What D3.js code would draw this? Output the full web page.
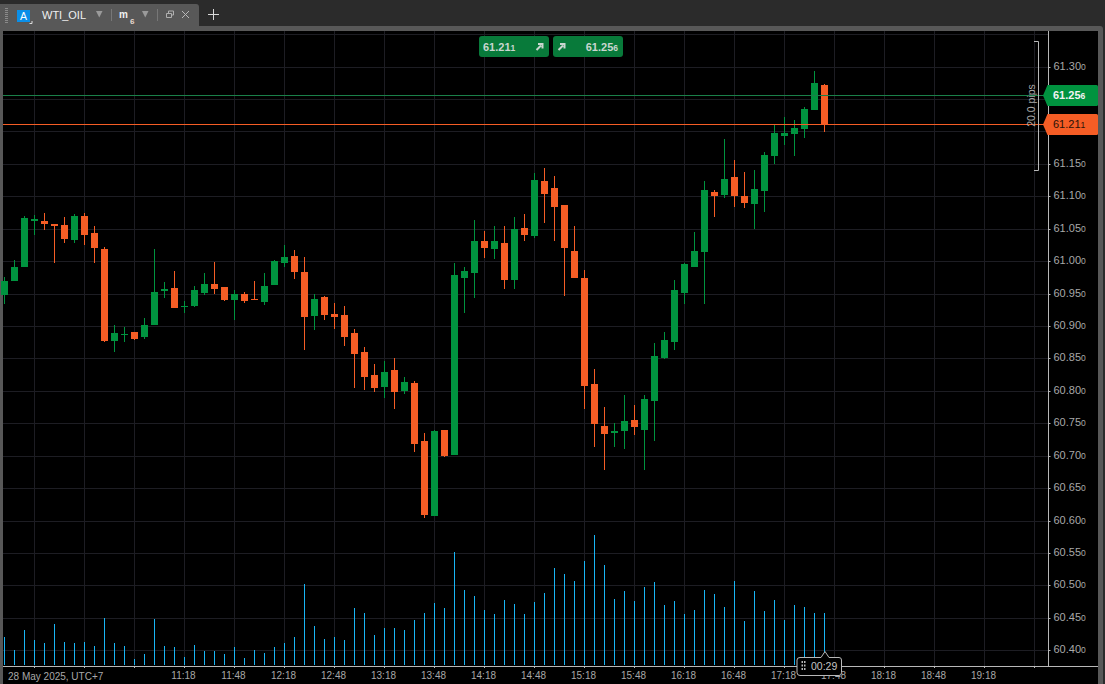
<!DOCTYPE html>
<html lang="en">
<head>
<meta charset="UTF-8">
<title>WTI_OIL m6</title>
<script src="https://cdn.jsdelivr.net/npm/d3@7"></script>
<style>
    html, body { margin: 0; padding: 0; background: #2b2b2b; overflow: hidden; }
    svg { display: block; font-family: "Liberation Sans", Arial, sans-serif; }
</style>
</head>
<body>
<script>

    //candles, one every 6 minutes from 09:30
    var startTime = "09:30";
    var barOpen = [60.949,60.970,60.992,61.063,61.063,61.058,61.056,61.033,61.070,61.044,
        61.019,60.878,60.887,60.891,60.884,60.902,60.955,60.959,60.930,60.932,
        60.952,60.965,60.961,60.941,60.950,60.942,60.938,60.964,60.998,61.009,
        60.984,60.916,60.945,60.919,60.918,60.890,60.861,60.825,60.807,60.833,
        60.800,60.813,60.723,60.608,60.740,60.702,60.974,60.982,61.032,61.019,
        61.029,60.972,61.052,61.039,61.124,61.113,61.087,61.016,60.974,60.811,
        60.747,60.736,60.739,60.756,60.740,60.785,60.851,60.876,60.952,60.991,
        61.015,61.107,61.103,61.130,61.101,61.089,61.109,61.163,61.194,61.197,
        61.204,61.234,61.272];
    var barHigh = [60.976,61.002,61.070,61.072,61.075,61.058,61.069,61.073,61.075,61.055,
        61.022,60.902,60.899,60.891,60.913,61.019,60.968,60.985,60.939,60.962,
        60.982,60.999,60.961,60.956,60.953,60.970,60.982,61.002,61.026,61.018,
        61.007,60.950,60.947,60.936,60.932,60.896,60.868,60.842,60.847,60.851,
        60.822,60.816,60.736,60.740,60.740,60.998,60.992,61.064,61.047,61.055,
        61.055,61.069,61.073,61.137,61.144,61.132,61.087,61.055,60.987,60.834,
        60.776,60.751,60.794,60.779,60.794,60.874,60.891,60.972,60.998,61.045,
        61.124,61.110,61.189,61.157,61.138,61.141,61.169,61.211,61.223,61.218,
        61.238,61.294,61.274];
    var barLow = [60.935,60.970,60.991,61.041,61.049,60.998,61.029,61.029,61.026,60.998,
        60.876,60.861,60.876,60.879,60.881,60.902,60.944,60.929,60.921,60.930,
        60.949,60.950,60.939,60.910,60.936,60.941,60.933,60.964,60.991,60.973,
        60.864,60.895,60.910,60.896,60.870,60.805,60.802,60.799,60.790,60.773,
        60.796,60.706,60.605,60.608,60.699,60.702,60.921,60.944,61.006,61.004,
        60.958,60.958,61.032,61.036,61.059,61.032,60.947,60.974,60.773,60.714,
        60.679,60.714,60.711,60.733,60.679,60.723,60.850,60.864,60.935,60.991,
        60.935,61.069,61.098,61.084,61.082,61.050,61.076,61.150,61.180,61.163,
        61.190,61.234,61.200];
    var barClose = [60.970,60.992,61.067,61.066,61.058,61.055,61.035,61.070,61.041,61.021,
        60.878,60.890,60.888,60.881,60.902,60.953,60.958,60.929,60.932,60.956,
        60.965,60.958,60.941,60.950,60.939,60.941,60.962,61.001,61.007,60.984,
        60.915,60.942,60.918,60.915,60.884,60.858,60.822,60.805,60.830,60.799,
        60.814,60.719,60.609,60.739,60.700,60.979,60.985,61.031,61.021,61.031,
        60.972,61.050,61.041,61.126,61.104,61.084,61.021,60.974,60.808,60.750,
        60.734,60.739,60.754,60.745,60.788,60.854,60.879,60.956,60.996,61.016,
        61.110,61.101,61.127,61.101,61.090,61.112,61.164,61.198,61.198,61.206,
        61.235,61.275,61.211];
    var tickVolume = [28,15,35,25,22,41,23,22,23,19,47,22,19,6,11,46,19,18,8,20,
        14,14,11,18,7,15,12,18,22,28,81,39,26,28,25,57,52,30,37,37,
        35,45,52,62,57,113,75,69,55,51,65,61,51,63,72,97,91,84,104,130,
        100,66,74,64,78,83,60,64,51,55,75,71,58,84,44,74,54,65,45,60,
        58,52,52];

    //axes
    var priceTicks = [61.30,61.25,61.20,61.15,61.10,61.05,61.00,60.95,60.90,60.85,
        60.80,60.75,60.70,60.65,60.60,60.55,60.50,60.45,60.40];
    var priceHidden = [61.25,61.20];    //covered by the price tags
    var priceGridExtra = [61.35];
    var timeTicks = ["09:48","10:18","10:48","11:18","11:48","12:18","12:48","13:18","13:48","14:18",
        "14:48","15:18","15:48","16:18","16:48","17:18","17:48","18:18","18:48","19:18","19:48"];
    var timeHidden = ["09:48","10:18","10:48","19:48"];
    var dateLabel = "28 May 2025, UTC+7";

    //current prices
    var askPrice = 61.256;
    var bidPrice = 61.211;
    var spreadLabel = "20.0 pips";
    var countdown = "00:29";
    var symbolName = "WTI_OIL";
    var timeframeLetter = "m";
    var timeframeNumber = "6";

    var width = 1105;
    var height = 684;
    var chartLeft = 3;
    var chartRight = 1098;
    var chartTop = 31;
    var axisX = 1048;
    var axisY = 666;

    var green = "#00933f";
    var orange = "#f55d25";
    var gridColor = "#1d1d23";
    var axisColor = "#b8b8b8";
    var labelColor = "#a8a8a8";
    var panelGray = "#585858";

    var parseTime = d3.utcParse("%H:%M");
    var firstBar = parseTime(startTime);
    var barTimes = barOpen.map(function (d, i) {
        return d3.utcMinute.offset(firstBar, i * 6);
    });

    var x = d3.scaleUtc()
        .domain([firstBar, d3.utcMinute.offset(firstBar, 6)])
        .range([4.5, 14.5]);
    var y = d3.scaleLinear()
        .domain([60.40, 61.30])
        .range([650.74, 67]);
    var volumeY = d3.scaleLinear()
        .domain([0, 130])
        .range([665, 535]);

    //row of a 1px line
    function row(p) {
        return Math.floor(y(p)) + 0.5;
    }
    function edge(p) {
        return Math.round(y(p));
    }

    var svg = d3.select("body")
        .append("svg")
        .attr("width", width)
        .attr("height", height);

    //window frame
    svg.append("rect").attr("width", width).attr("height", height).attr("fill", "#2b2b2b");
    svg.append("path")
        .attr("d", "M0,26H1100Q1103,26 1103,29V684H0Z")
        .attr("fill", panelGray);
    svg.append("rect")
        .attr("x", chartLeft).attr("y", chartTop)
        .attr("width", chartRight - chartLeft).attr("height", height - chartTop)
        .attr("fill", "#000");

    //grid
    var timeValues = timeTicks.map(parseTime);
    svg.append("g").selectAll("line")
        .data(timeValues)
        .enter()
        .append("line")
        .attr("x1", function (d) { return x(d); })
        .attr("x2", function (d) { return x(d); })
        .attr("y1", chartTop)
        .attr("y2", axisY)
        .attr("stroke", gridColor);
    svg.append("g").selectAll("line")
        .data(priceTicks.concat(priceGridExtra))
        .enter()
        .append("line")
        .attr("x1", chartLeft)
        .attr("x2", axisX)
        .attr("y1", row)
        .attr("y2", row)
        .attr("stroke", gridColor);

    //volume
    svg.append("g").selectAll("line")
        .data(tickVolume)
        .enter()
        .append("line")
        .attr("x1", function (d, i) { return x(barTimes[i]); })
        .attr("x2", function (d, i) { return x(barTimes[i]); })
        .attr("y1", function (d) { return volumeY(0); })
        .attr("y2", function (d) { return volumeY(d); })
        .attr("stroke", "#17b5f5");

    //candles
    var candles = svg.append("g").selectAll("g")
        .data(barOpen)
        .enter()
        .append("g")
        .attr("fill", function (d, i) { return barClose[i] >= d ? green : orange; })
        .attr("stroke", function (d, i) { return barClose[i] >= d ? green : orange; });
    candles.append("line")
        .attr("x1", function (d, i) { return x(barTimes[i]); })
        .attr("x2", function (d, i) { return x(barTimes[i]); })
        .attr("y1", function (d, i) { return edge(barHigh[i]); })
        .attr("y2", function (d, i) { return edge(barLow[i]); });
    candles.append("rect")
        .attr("stroke", "none")
        .attr("x", function (d, i) { return x(barTimes[i]) - 3.5; })
        .attr("width", 7)
        .attr("y", function (d, i) { return edge(Math.max(d, barClose[i])); })
        .attr("height", function (d, i) {
            return Math.max(1, edge(Math.min(d, barClose[i])) - edge(Math.max(d, barClose[i])));
        });

    //ask and bid lines
    svg.append("line")
        .attr("x1", chartLeft).attr("x2", 1044)
        .attr("y1", row(askPrice)).attr("y2", row(askPrice))
        .attr("stroke", "#1a8049");
    svg.append("line")
        .attr("x1", chartLeft).attr("x2", 1044)
        .attr("y1", row(bidPrice)).attr("y2", row(bidPrice))
        .attr("stroke", orange);

    //price axis
    var priceAxis = svg.append("g")
        .attr("transform", "translate(" + axisX + ",0)")
        .call(d3.axisRight(y).tickValues(priceTicks).tickSize(2).tickPadding(3));
    priceAxis.select(".domain").remove();
    priceAxis.selectAll(".tick")
        .attr("transform", function (d) { return "translate(0.5," + row(d) + ")"; });
    priceAxis.selectAll(".tick line").attr("stroke", axisColor);
    priceAxis.selectAll(".tick text").each(function (d) {
        var t = d3.select(this).text(null)
            .attr("font-size", 11)
            .attr("font-family", "Liberation Sans")
            .attr("fill", labelColor)
            .attr("x", 5)
            .attr("y", -1);
        if (priceHidden.indexOf(d) >= 0) return;
        t.append("tspan").text(d.toFixed(2));
        t.append("tspan").attr("font-size", 8.5).text("0");
    });
    svg.append("line")
        .attr("x1", axisX + 0.5).attr("x2", axisX + 0.5)
        .attr("y1", chartTop).attr("y2", axisY)
        .attr("stroke", axisColor);

    //time axis
    var timeAxis = svg.append("g")
        .attr("transform", "translate(0," + axisY + ")")
        .call(d3.axisBottom(x)
            .tickValues(timeValues)
            .tickSize(2)
            .tickPadding(4)
            .tickFormat(function (d) {
                var s = d3.utcFormat("%H:%M")(d);
                return timeHidden.indexOf(s) >= 0 ? "" : s;
            }));
    timeAxis.select(".domain").remove();
    timeAxis.selectAll(".tick").attr("transform", function (d) { return "translate(" + x(d) + ",0)"; });
    timeAxis.selectAll(".tick line").attr("stroke", axisColor);
    timeAxis.selectAll(".tick text")
        .attr("x", -1)
        .attr("font-size", 10)
        .attr("font-family", "Liberation Sans")
        .attr("fill", labelColor);
    svg.append("line")
        .attr("x1", chartLeft).attr("x2", chartRight)
        .attr("y1", axisY + 0.5).attr("y2", axisY + 0.5)
        .attr("stroke", axisColor);
    svg.append("text")
        .attr("x", 8).attr("y", 680)
        .attr("font-size", 10)
        .attr("fill", labelColor)
        .text(dateLabel);

    //spread bracket
    svg.append("path")
        .attr("d", "M1034,41.5H1038.5V170.5H1034")
        .attr("fill", "none")
        .attr("stroke", axisColor);
    svg.append("text")
        .attr("transform", "translate(1035,105.5) rotate(-90)")
        .attr("text-anchor", "middle")
        .attr("font-size", 10.5)
        .attr("fill", labelColor)
        .text(spreadLabel);

    //price tags
    function priceTag(price, fill, textFill, weight) {
        var c = row(price);
        svg.append("path")
            .attr("d", "M1043," + c + "L1047.5," + (c - 10.5) + "H1096.5Q1098," + (c - 10.5) + " 1098," + (c - 9)
                + "V" + (c + 9) + "Q1098," + (c + 10.5) + " 1096.5," + (c + 10.5) + "H1047.5Z")
            .attr("fill", fill);
        var s = price.toFixed(3);
        var t = svg.append("text")
            .attr("x", 1053).attr("y", c + 3.5)
            .attr("font-size", 11)
            .attr("font-weight", weight)
            .attr("fill", textFill);
        t.append("tspan").text(s.slice(0, 5));
        t.append("tspan").attr("font-size", 8.5).text(s.slice(5));
    }
    priceTag(askPrice, green, "#f2f2f2", "bold");
    priceTag(bidPrice, orange, "#2a1208", "normal");

    //buy and sell buttons
    function tradeButton(left, price, textRight, arrowX) {
        svg.append("rect")
            .attr("x", left).attr("y", 36)
            .attr("width", 70).attr("height", 21)
            .attr("rx", 3)
            .attr("fill", "#087a3a");
        var s = price.toFixed(3);
        var t = svg.append("text")
            .attr("y", 50.5)
            .attr("font-size", 11)
            .attr("font-weight", "bold")
            .attr("fill", "#c9d6cf");
        if (textRight) {
            t.attr("x", left + 65).attr("text-anchor", "end");
        } else {
            t.attr("x", left + 4);
        }
        t.append("tspan").text(s.slice(0, 5));
        t.append("tspan").attr("font-size", 8.5).text(s.slice(5));
        svg.append("path")
            .attr("d", "M" + (arrowX - 3) + ",50L" + (arrowX + 1.5) + ",45.5M" + (arrowX - 1.5) + ",44H" + (arrowX + 3) + "V48.5")
            .attr("fill", "none")
            .attr("stroke", "#c9d6cf")
            .attr("stroke-width", 2);
    }
    tradeButton(479, bidPrice, false, 539.5);
    tradeButton(553, askPrice, true, 561.5);

    //countdown flag
    svg.append("path")
        .attr("d", "M800,657.5H821L825,651.5L829,657.5H839Q841.5,657.5 841.5,660V672.5Q841.5,675.5 839,675.5H800Q797,675.5 797,672.5V660Q797,657.5 800,657.5Z")
        .attr("fill", "#000")
        .attr("stroke", axisColor);
    svg.append("g").selectAll("rect")
        .data([0, 1, 2, 3, 4, 5])
        .enter()
        .append("rect")
        .attr("x", function (d) { return 801.5 + (d % 2) * 2.5; })
        .attr("y", function (d) { return 661 + Math.floor(d / 2) * 3.5; })
        .attr("width", 1.5)
        .attr("height", 2)
        .attr("fill", axisColor);
    svg.append("text")
        .attr("x", 811).attr("y", 670)
        .attr("font-size", 10.5)
        .attr("fill", "#c4c4c4")
        .text(countdown);

    //tab bar
    svg.append("path")
        .attr("d", "M0,4H196Q199,4 199,7V26H0Z")
        .attr("fill", panelGray);
    svg.append("g").selectAll("rect")
        .data(d3.range(8))
        .enter()
        .append("rect")
        .attr("x", 5)
        .attr("y", function (d) { return 8 + d * 2; })
        .attr("width", 3)
        .attr("height", 1)
        .attr("fill", "#8a8a8a");
    svg.append("rect")
        .attr("x", 17).attr("y", 10)
        .attr("width", 13).attr("height", 12)
        .attr("fill", "#0a8fe8");
    svg.append("text")
        .attr("x", 23.5).attr("y", 19.5)
        .attr("text-anchor", "middle")
        .attr("font-size", 10.5)
        .attr("fill", "#fff")
        .text("A");
    svg.append("path").attr("d", "M32,21V23.5H29.5").attr("fill", "none").attr("stroke", "#ddd");
    svg.append("text")
        .attr("x", 42).attr("y", 19)
        .attr("font-size", 11)
        .attr("fill", "#f0f0f0")
        .text(symbolName);
    svg.append("text")
        .attr("x", 119).attr("y", 17.5)
        .attr("font-size", 10)
        .attr("font-weight", "bold")
        .attr("fill", "#f0f0f0")
        .text(timeframeLetter);
    svg.append("text")
        .attr("x", 130).attr("y", 24)
        .attr("font-size", 8)
        .attr("font-weight", "bold")
        .attr("fill", "#e8d8d0")
        .text(timeframeNumber);
    [96, 142].forEach(function (tx) {
        svg.append("path")
            .attr("d", "M" + tx + ",11H" + (tx + 6.5) + "L" + (tx + 3.25) + ",17.5Z")
            .attr("fill", "#9a9a9a");
    });
    [111.5, 157.5].forEach(function (sx) {
        svg.append("line")
            .attr("x1", sx).attr("x2", sx)
            .attr("y1", 9).attr("y2", 21)
            .attr("stroke", "#777");
    });
    svg.append("path")
        .attr("d", "M166.5,13.5H171.5V17.5H166.5ZM168.5,13V11H173.5V15H172")
        .attr("fill", "none")
        .attr("stroke", "#b0b0b0");
    svg.append("path")
        .attr("d", "M182,11L189,18M189,11L182,18")
        .attr("fill", "none")
        .attr("stroke", "#b8b8b8");
    svg.append("path")
        .attr("d", "M213.5,9V20M208,14.5H219")
        .attr("fill", "none")
        .attr("stroke", "#d8d8d8");

</script>
</body>
</html>
